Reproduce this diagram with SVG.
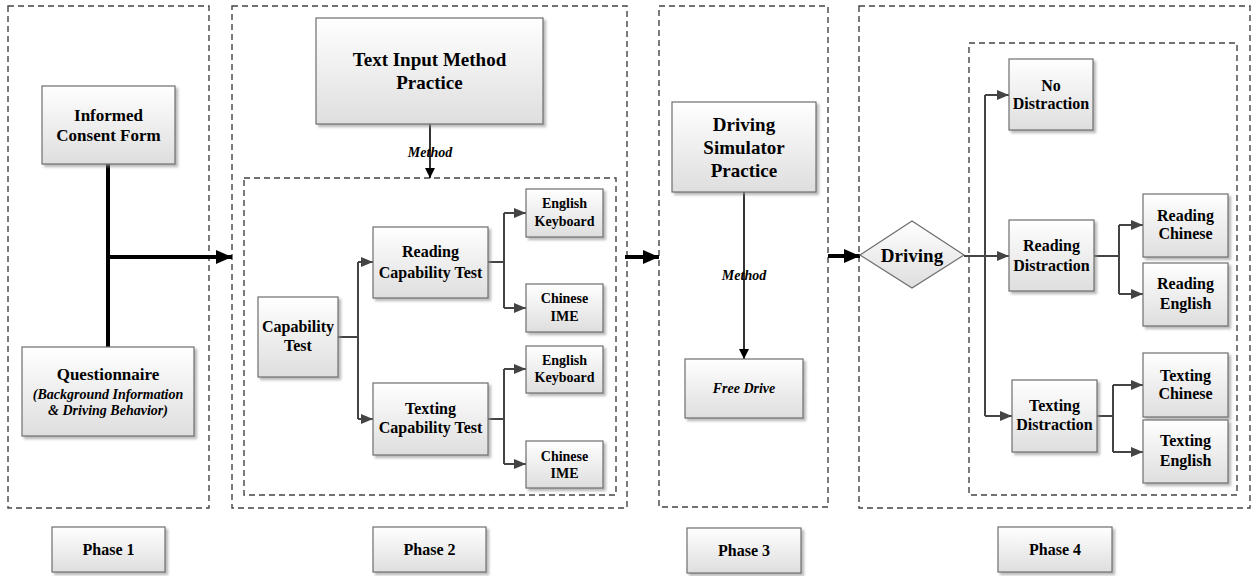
<svg xmlns="http://www.w3.org/2000/svg" width="1255" height="576" viewBox="0 0 1255 576">
<defs>
<linearGradient id="g" x1="0" y1="0" x2="0" y2="1">
<stop offset="0" stop-color="#ffffff"/>
<stop offset="1" stop-color="#dedede"/>
</linearGradient>
<filter id="sh" x="-10%" y="-10%" width="130%" height="130%">
<feDropShadow dx="2.5" dy="2.5" stdDeviation="1" flood-color="#8a8a8a" flood-opacity="0.6"/>
</filter>
<marker id="big" markerUnits="userSpaceOnUse" markerWidth="18" markerHeight="16" refX="16" refY="8" orient="auto">
<path d="M0,1 L16,8 L0,15 z" fill="#000"/>
</marker>
<marker id="blk" markerUnits="userSpaceOnUse" markerWidth="12" markerHeight="12" refX="10" refY="6" orient="auto">
<path d="M0,1 L10,6 L0,11 z" fill="#000"/>
</marker>
<marker id="gry" markerUnits="userSpaceOnUse" markerWidth="14" markerHeight="12" refX="12" refY="6" orient="auto">
<path d="M0,1 L12,6 L0,11 z" fill="#444"/>
</marker>
</defs>
<style>
.dash{fill:none;stroke:#444;stroke-width:1.4;stroke-dasharray:6,4}
.box{fill:url(#g);stroke:#6e6e6e;stroke-width:1.2;filter:url(#sh)}
text{font-family:"Liberation Serif","Times New Roman",serif;font-weight:bold;text-anchor:middle;fill:#000}
.t19{font-size:19px}
.t17{font-size:17px}
.t16{font-size:16px}
.t14{font-size:14px}
.it{font-style:italic}
.thick{fill:none;stroke:#000;stroke-width:4}
.thin{fill:none;stroke:#000;stroke-width:1.6}
.gr{fill:none;stroke:#444;stroke-width:2}
</style>

<g id="containers">
<rect class="dash" x="8" y="6" width="201" height="502"/>
<rect class="dash" x="232" y="6" width="395" height="502"/>
<rect class="dash" x="244" y="178" width="372" height="317"/>
<rect class="dash" x="659" y="6" width="169" height="501"/>
<rect class="dash" x="859" y="6" width="391" height="502"/>
<rect class="dash" x="969" y="43" width="268" height="452"/>
</g>

<g id="connectors">
<path class="thick" d="M108,164 V347"/>
<path class="thick" d="M108,257 H232" marker-end="url(#big)"/>
<path class="thick" d="M625,257 H659" marker-end="url(#big)"/>
<path class="thick" d="M828,256 H860" marker-end="url(#big)"/>
<path class="thin" d="M430,124 V178" marker-end="url(#blk)"/>
<path class="thin" d="M744,192 V359" marker-end="url(#blk)"/>
<path class="gr" d="M338,337 H358 M358,262 V419"/>
<path class="gr" d="M358,262 H373" marker-end="url(#gry)"/>
<path class="gr" d="M358,419 H373" marker-end="url(#gry)"/>
<path class="gr" d="M488,262 H504 M504,213 V308"/>
<path class="gr" d="M504,213 H526" marker-end="url(#gry)"/>
<path class="gr" d="M504,308 H526" marker-end="url(#gry)"/>
<path class="gr" d="M488,419 H504 M504,369 V464"/>
<path class="gr" d="M504,369 H526" marker-end="url(#gry)"/>
<path class="gr" d="M504,464 H526" marker-end="url(#gry)"/>
<path class="gr" d="M964,256 H985 M985,95 V416"/>
<path class="gr" d="M985,95 H1009" marker-end="url(#gry)"/>
<path class="gr" d="M985,256 H1009" marker-end="url(#gry)"/>
<path class="gr" d="M985,416 H1012" marker-end="url(#gry)"/>
<path class="gr" d="M1094,256 H1119 M1119,225 V294"/>
<path class="gr" d="M1119,225 H1143" marker-end="url(#gry)"/>
<path class="gr" d="M1119,294 H1143" marker-end="url(#gry)"/>
<path class="gr" d="M1097,416 H1113 M1113,385 V452"/>
<path class="gr" d="M1113,385 H1143" marker-end="url(#gry)"/>
<path class="gr" d="M1113,452 H1143" marker-end="url(#gry)"/>
</g>

<g id="labels">
<text class="t14 it" x="430" y="157">Method</text>
<text class="t14 it" x="744" y="280">Method</text>
</g>

<g id="informed">
<rect class="box" x="42" y="86" width="133" height="78"/>
<text class="t17" x="108.5" y="121">Informed</text>
<text class="t17" x="108.5" y="141">Consent Form</text>
</g>
<g id="questionnaire">
<rect class="box" x="22" y="347" width="172" height="89"/>
<text class="t17" x="108" y="380">Questionnaire</text>
<text class="t14 it" x="108" y="399">(Background Information</text>
<text class="t14 it" x="108" y="415">&amp; Driving Behavior)</text>
</g>
<g id="phase1">
<rect class="box" x="52" y="527" width="113" height="45"/>
<text class="t16" x="108.5" y="555">Phase 1</text>
</g>

<g id="textinput">
<rect class="box" x="316" y="18" width="227" height="106"/>
<text class="t19" x="429.5" y="66">Text Input Method</text>
<text class="t19" x="429.5" y="89">Practice</text>
</g>
<g id="captest">
<rect class="box" x="258" y="297" width="80" height="80"/>
<text class="t16" x="298" y="332">Capability</text>
<text class="t16" x="298" y="351">Test</text>
</g>
<g id="readcap">
<rect class="box" x="373" y="227" width="115" height="71"/>
<text class="t16" x="430.5" y="257">Reading</text>
<text class="t16" x="430.5" y="278">Capability Test</text>
</g>
<g id="textcap">
<rect class="box" x="373" y="383" width="115" height="72"/>
<text class="t16" x="430.5" y="414">Texting</text>
<text class="t16" x="430.5" y="433">Capability Test</text>
</g>
<g id="engkb1">
<rect class="box" x="526" y="189" width="77" height="48"/>
<text class="t14" x="564.5" y="208">English</text>
<text class="t14" x="564.5" y="226">Keyboard</text>
</g>
<g id="chime1">
<rect class="box" x="526" y="284" width="77" height="48"/>
<text class="t14" x="564.5" y="303">Chinese</text>
<text class="t14" x="564.5" y="321">IME</text>
</g>
<g id="engkb2">
<rect class="box" x="526" y="346" width="77" height="47"/>
<text class="t14" x="564.5" y="365">English</text>
<text class="t14" x="564.5" y="382">Keyboard</text>
</g>
<g id="chime2">
<rect class="box" x="526" y="441" width="77" height="47"/>
<text class="t14" x="564.5" y="461">Chinese</text>
<text class="t14" x="564.5" y="478">IME</text>
</g>
<g id="phase2">
<rect class="box" x="373" y="527" width="113" height="45"/>
<text class="t16" x="429.5" y="555">Phase 2</text>
</g>

<g id="simpractice">
<rect class="box" x="672" y="102" width="144" height="90"/>
<text class="t19" x="744" y="131">Driving</text>
<text class="t19" x="744" y="154">Simulator</text>
<text class="t19" x="744" y="177">Practice</text>
</g>
<g id="freedrive">
<rect class="box" x="685" y="359" width="118" height="59"/>
<text class="t14 it" x="744" y="393">Free Drive</text>
</g>
<g id="phase3">
<rect class="box" x="687" y="528" width="114" height="45"/>
<text class="t16" x="744" y="556">Phase 3</text>
</g>

<g id="driving">
<polygon points="860,255 912,221 964,255 912,288" fill="url(#g)" stroke="#6e6e6e" stroke-width="1.2"/>
<text class="t19" x="912" y="262">Driving</text>
</g>
<g id="nodistraction">
<rect class="box" x="1009" y="59" width="84" height="71"/>
<text class="t16" x="1051" y="91">No</text>
<text class="t16" x="1051" y="109">Distraction</text>
</g>
<g id="readdistraction">
<rect class="box" x="1009" y="220" width="85" height="71"/>
<text class="t16" x="1051.5" y="251">Reading</text>
<text class="t16" x="1051.5" y="271">Distraction</text>
</g>
<g id="textdistraction">
<rect class="box" x="1012" y="380" width="85" height="72"/>
<text class="t16" x="1054.5" y="411">Texting</text>
<text class="t16" x="1054.5" y="430">Distraction</text>
</g>
<g id="readchinese">
<rect class="box" x="1143" y="194" width="85" height="63"/>
<text class="t16" x="1185.5" y="221">Reading</text>
<text class="t16" x="1185.5" y="239">Chinese</text>
</g>
<g id="readenglish">
<rect class="box" x="1143" y="263" width="85" height="63"/>
<text class="t16" x="1185.5" y="289">Reading</text>
<text class="t16" x="1185.5" y="309">English</text>
</g>
<g id="textchinese">
<rect class="box" x="1143" y="353" width="85" height="64"/>
<text class="t16" x="1185.5" y="381">Texting</text>
<text class="t16" x="1185.5" y="399">Chinese</text>
</g>
<g id="textenglish">
<rect class="box" x="1143" y="420" width="85" height="63"/>
<text class="t16" x="1185.5" y="446">Texting</text>
<text class="t16" x="1185.5" y="466">English</text>
</g>
<g id="phase4">
<rect class="box" x="998" y="527" width="114" height="45"/>
<text class="t16" x="1055" y="555">Phase 4</text>
</g>
</svg>
